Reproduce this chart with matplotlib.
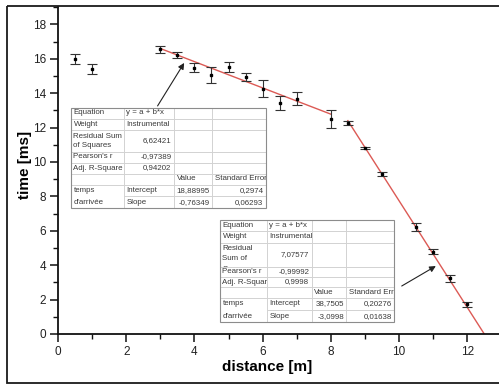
import matplotlib
matplotlib.use("Agg")
import matplotlib.pyplot as plt
from matplotlib.patches import Rectangle
from matplotlib.ticker import MultipleLocator
import numpy as np

# ---------------- data ----------------
distance = [0.5, 1.0, 3.0, 3.5, 4.0, 4.5, 5.0, 5.5, 6.0, 6.5, 7.0, 8.0,
            8.5, 9.0, 9.5, 10.5, 11.0, 11.5, 12.0]
time_ms = [16.0, 15.4, 16.55, 16.22, 15.48, 15.06, 15.54, 14.95, 14.25, 13.44, 13.68, 12.48,
           12.29, 10.81, 9.30, 6.20, 4.79, 3.24, 1.72]
time_err = [0.28, 0.29, 0.22, 0.17, 0.27, 0.47, 0.29, 0.23, 0.49, 0.41, 0.39, 0.53,
            0.12, 0.08, 0.10, 0.23, 0.15, 0.20, 0.16]

fit1_a, fit1_b = 18.88995, -0.76349
fit2_a, fit2_b = 38.7505, -3.0998
fit1_x = [3.0, 8.0]
fit2_x_start = 8.5

xticks = [0, 2, 4, 6, 8, 10, 12]
yticks = [0, 2, 4, 6, 8, 10, 12, 14, 16, 18]
xlabel = "distance [m]"
ylabel = "time [ms]"

row_labels1 = ["Equation", "Weight", "Residual Sum\nof Squares", "Pearson's r", "Adj. R-Square"]
row_values1 = ["y = a + b*x", "Instrumental", "6,62421", "-0,97389", "0,94202"]
row_labels2 = ["Equation", "Weight", "Residual\nSum of\nSquares", "Pearson's r", "Adj. R-Square"]
row_values2 = ["y = a + b*x", "Instrumental", "7,07577", "-0,99992", "0,9998"]
header = ["Value", "Standard Error"]
group_label = ["temps", "d'arrivée"]
param_names = ["Intercept", "Slope"]
param_values1 = ["18,88995", "-0,76349"]
param_errors1 = ["0,2974", "0,06293"]
param_values2 = ["38,7505", "-3,0998"]
param_errors2 = ["0,20276", "0,01638"]

# ---------------- figure ----------------
W, H = 499, 384
fig = plt.figure(figsize=(W / 100, H / 100), dpi=100)
FONT = "Liberation Sans"

x0px, y0px = 58.0, 334.0
pxx, pxy = 34.1, 17.2
xmax, ymax = 13.0, 19.0
ax = fig.add_axes([x0px / W, (H - y0px) / H, xmax * pxx / W, ymax * pxy / H])
ax.set_xlim(0, xmax)
ax.set_ylim(0, ymax)

for s in ["top", "right"]:
    ax.spines[s].set_visible(False)
for s in ["left", "bottom"]:
    ax.spines[s].set_linewidth(1.3)
    ax.spines[s].set_color("#111111")

ax.set_xticks(xticks)
ax.set_yticks(yticks)
ax.xaxis.set_minor_locator(MultipleLocator(1))
ax.yaxis.set_minor_locator(MultipleLocator(1))
ax.tick_params(which="major", direction="out", length=6, width=1.1, color="#111111",
               labelsize=8.5, pad=2.5)
ax.tick_params(which="minor", direction="out", length=3.5, width=1.0, color="#111111")
for lab in ax.get_xticklabels() + ax.get_yticklabels():
    lab.set_fontfamily(FONT)
    lab.set_color("#222222")

ax.set_xlabel(xlabel, fontfamily=FONT, fontweight="bold", fontsize=11)
ax.set_ylabel(ylabel, fontfamily=FONT, fontweight="bold", fontsize=11)
ax.xaxis.set_label_coords((267.5 - x0px) / (xmax * pxx), (y0px - 366.5) / (ymax * pxy))
ax.yaxis.set_label_coords((25 - x0px) / (xmax * pxx), (y0px - 165) / (ymax * pxy))
ax.xaxis.label.set_va("center")
ax.yaxis.label.set_va("center")

# fit lines
xf1 = np.array(fit1_x)
ax.plot(xf1, fit1_a + fit1_b * xf1, color="#dc5a55", lw=1.0, zorder=2)
xf2 = np.array([fit2_x_start, -fit2_a / fit2_b])
ax.plot(xf2, fit2_a + fit2_b * xf2, color="#dc5a55", lw=1.0, zorder=2)

# data with error bars
ax.errorbar(distance, time_ms, yerr=time_err, fmt="s", ms=1.7, mfc="black", mec="black",
            ecolor="#333333", elinewidth=0.8, capsize=3.6, capthick=0.8, zorder=3)

# arrows
ax.annotate("", xy=(3.70, 15.76), xytext=(2.92, 13.26),
            arrowprops=dict(arrowstyle="-|>", color="#222222", lw=0.8, mutation_scale=9,
                            shrinkA=0, shrinkB=0))
ax.annotate("", xy=(11.08, 3.95), xytext=(10.08, 2.79),
            arrowprops=dict(arrowstyle="-|>", color="#222222", lw=0.8, mutation_scale=9,
                            shrinkA=0, shrinkB=0))

# ---------------- overlay for tables and frame (pixel coordinates) ----------------
ov = fig.add_axes([0, 0, 1, 1], zorder=5)
ov.set_xlim(0, W)
ov.set_ylim(H, 0)
ov.axis("off")
ov.patch.set_visible(False)

# outer frame
ov.add_patch(Rectangle((7, 6), W + 20, 377, fill=False, edgecolor="#1a1a1a", lw=1.3,
                       clip_on=False))

TXT = "#3a3a3a"
FS = 5.7


def is_num(s):
    return len(s) > 0 and (s[0].isdigit() or s[0] == "-")


def draw_table(cols, rows, labels, values, pvals, perrs):
    left, right = cols[0], cols[-1]
    top, bottom = rows[0], rows[-1]
    ov.add_patch(Rectangle((left, top), right - left, bottom - top, facecolor="white",
                           edgecolor="none", zorder=1))
    for i, yy in enumerate(rows[1:-1], start=1):
        xs = cols[1] if i == 7 else left
        ov.plot([xs, right], [yy, yy], color="#d2d2d2", lw=0.7, zorder=2)
    for xx in cols[1:-1]:
        ov.plot([xx, xx], [top, bottom], color="#d2d2d2", lw=0.7, zorder=2)
    ov.add_patch(Rectangle((left, top), right - left, bottom - top, fill=False,
                           edgecolor="#8c8c8c", lw=0.8, zorder=3))

    def put(r, c, text, ha):
        cl, cr = cols[c], cols[c + 1]
        rt, rb = rows[r], rows[r + 1]
        clip = Rectangle((cl, rt), cr - cl, rb - rt, transform=ov.transData)
        lines = text.split("\n")
        for k, ln in enumerate(lines):
            if len(lines) == 1:
                yc = (rt + rb) / 2
            else:
                yc = rt + 6 + k * 9.6 + (1.5 if k == 2 else 0)
            xx = cl + 2.5 if ha == "left" else cr - 2.5
            t = ov.text(xx, yc, ln, ha=ha, va="center", fontsize=FS, fontfamily=FONT,
                        color=TXT, zorder=4, clip_on=True)
            t.set_clip_path(clip)

    for r in range(5):
        put(r, 0, labels[r], "left")
        v = values[r]
        put(r, 1, v, "right" if is_num(v) else "left")
    put(5, 2, header[0], "left")
    put(5, 3, header[1], "left")
    for k in range(2):
        put(6 + k, 0, group_label[k], "left")
        put(6 + k, 1, param_names[k], "left")
        put(6 + k, 2, pvals[k], "right")
        put(6 + k, 3, perrs[k], "right")


draw_table([71, 124, 174, 212.5, 266],
           [107.5, 118.5, 130, 151.5, 162.5, 173.5, 184.5, 196.4, 208.3],
           row_labels1, row_values1, param_values1, param_errors1)
draw_table([220, 267, 311.7, 346.5, 394.5],
           [219.8, 230.8, 242.5, 266.5, 276.7, 287.3, 297.8, 310.0, 322.3],
           row_labels2, row_values2, param_values2, param_errors2)

fig.savefig("out.png", dpi=100)
